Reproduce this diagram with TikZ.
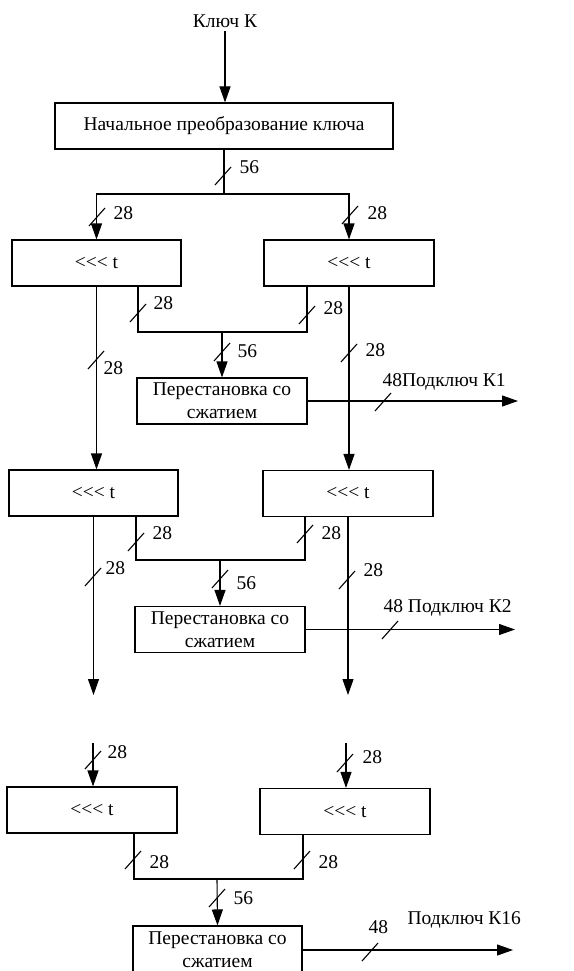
\documentclass[tikz,border=0pt]{standalone}
\usepackage{fontspec}
\setmainfont{Liberation Serif}
\usetikzlibrary{arrows.meta}

% boxes, arrows and bus-width labels
\tikzset{
  blk/.style={draw, minimum height=46pt, inner sep=0pt, align=center},
  arr/.style={-{Triangle[length=16pt,width=11pt]}},
  lbl/.style={anchor=west, inner sep=0pt},
}
% slash across a bus: name, x, y, label dx, label dy, width
\newcommand{\bus}[6]{%
  \draw (#2-8,#3+9) -- (#2+8,#3-9);
  \node[lbl] (#1) at (#2+#4,#3+#5) {#6};
}
\newcommand{\rot}{<{}<{}< t}

\begin{document}
\begin{tikzpicture}[x=1pt, y=-1pt, line width=1.1pt,
    every node/.style={font=\fontsize{19.5}{23}\selectfont}]
  \useasboundingbox (0,0) rectangle (573,971);

  % key and initial transform
  \node (key) at (225,21) {Ключ К};
  \node[blk, minimum width=338pt] (init) at (224,126) {Начальное преобразование ключа};
  \coordinate (split) at (224,194);
  \draw[arr] (key.south) -- (key.south |- init.north);

  % round 1
  \node[blk, minimum width=169pt] (L1) at (96.5,263) {\rot};
  \node[blk, minimum width=170pt] (R1) at (349,263) {\rot};
  \node[blk, minimum width=170pt] (P1) at (222,401) {Перестановка со\\сжатием};
  \coordinate (j1) at (222,332);
  \coordinate (k1) at (518,402);
  \draw (init.south) -- (split);
  \draw[arr] (split) -| (L1.north);
  \draw[arr] (split) -| (R1.north);
  \draw ([xshift=41.5pt]L1.south) |- (j1) -| ([xshift=-42pt]R1.south);
  \draw[arr] (j1) -- (P1.north);
  \draw[arr] (P1.east) -- (P1.east -| k1);
  \bus{w0}{223}{176}{16}{-9}{56}
  \bus{w1}{97}{217}{16}{-4}{28}
  \bus{w2}{350}{215}{17}{-2}{28}
  \bus{w3}{138}{313}{15}{-10}{28}
  \bus{w4}{307}{315}{16}{-7}{28}
  \bus{w5}{222}{352}{15}{-1}{56}
  \bus{w6}{96}{360}{7}{8}{28}
  \bus{w7}{349}{353}{16}{-3}{28}
  \bus{sub1}{383}{402}{-1}{-20}{48Подключ К1}

  % round 2
  \node[blk, minimum width=169pt] (L2) at (93.5,493) {\rot};
  \node[blk, minimum width=170pt] (R2) at (348,493.5) {\rot};
  \node[blk, minimum width=170pt] (P2) at (220,629.5) {Перестановка со\\сжатием};
  \coordinate (j2) at (220,560);
  \coordinate (k2) at (515,630);
  \coordinate (lend) at (93,695);
  \coordinate (rend) at (347,695);
  \draw[arr] (L1.south) -- (L1.south |- L2.north);
  \draw[arr] (R1.south) -- (R1.south |- R2.north);
  \draw ([xshift=42.5pt]L2.south) |- (j2) -| ([xshift=-43pt]R2.south);
  \draw[arr] (j2) -- (P2.north);
  \draw[arr] (P2.east) -- (P2.east -| k2);
  \draw[arr] (L2.south) -- (L2.south |- lend);
  \draw[arr] (R2.south) -- (R2.south |- rend);
  \bus{w8}{136}{542}{16}{-9}{28}
  \bus{w9}{305}{534}{16}{-1}{28}
  \bus{w10}{220}{579}{16}{4}{56}
  \bus{w11}{93}{577}{12}{-9}{28}
  \bus{w12}{347}{580}{16}{-10}{28}
  \bus{sub2}{390}{630}{-7}{-22}{48 Подключ К2}

  % round 16
  \node[blk, minimum width=170pt] (L3) at (92,810) {\rot};
  \node[blk, minimum width=170pt] (R3) at (345,811.5) {\rot};
  \node[blk, minimum width=169pt, minimum height=48pt] (P3) at (217.5,950) {Перестановка со\\сжатием};
  \coordinate (lin) at (93,743);
  \coordinate (rin) at (346,743);
  \coordinate (j3) at (217,879);
  \coordinate (k3) at (513,950);
  \draw[arr] (lin) -- (lin |- L3.north);
  \draw[arr] (rin) -- (rin |- R3.north);
  \draw ([xshift=42pt]L3.south) |- (j3) -| ([xshift=-42pt]R3.south);
  \draw[arr] (j3) -- (P3.north);
  \draw[arr] (P3.east) -- (P3.east -| k3);
  \bus{w13}{93}{760}{14}{-8}{28}
  \bus{w14}{345}{763}{17}{-6}{28}
  \bus{w15}{133}{860}{16}{2}{28}
  \bus{w16}{302}{860}{16}{2}{28}
  \bus{w17}{217}{898}{16}{0}{56}
  \bus{w18}{370}{952}{-2}{-25}{48}
  \node[lbl] (sub16) at (407,920) {Подключ К16};
\end{tikzpicture}
\end{document}
